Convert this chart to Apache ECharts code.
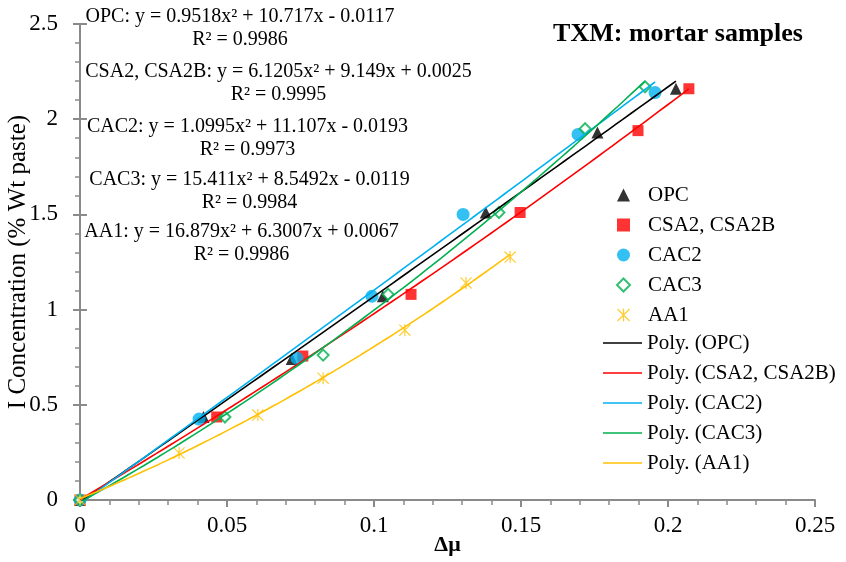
<!DOCTYPE html>
<html>
<head>
<meta charset="utf-8">
<script src="https://cdn.jsdelivr.net/npm/echarts@6/dist/echarts.min.js"></script>
<style>
  html, body { margin: 0; padding: 0; background: #fff; }
  #chart { width: 846px; height: 562px; }
</style>
</head>
<body>
<div id="chart"></div>
<script>
// Measured points: Δμ (x) vs I concentration (y)
const opcX  = [0, 0.042, 0.072, 0.103, 0.138, 0.176, 0.2027];
const opcY  = [0, 0.436, 0.740, 1.070, 1.510, 1.930, 2.160];
const csaX  = [0, 0.0465, 0.0758, 0.1126, 0.1497, 0.1898, 0.2071];
const csaY  = [0, 0.436, 0.756, 1.080, 1.510, 1.940, 2.160];
const cac2X = [0, 0.0405, 0.0738, 0.0993, 0.1303, 0.1694, 0.1956];
const cac2Y = [0, 0.425, 0.745, 1.070, 1.500, 1.920, 2.140];
const cac3X = [0, 0.0493, 0.0827, 0.1048, 0.1425, 0.1718, 0.1922];
const cac3Y = [0, 0.436, 0.761, 1.080, 1.510, 1.950, 2.170];
const aa1X  = [0, 0.0337, 0.0605, 0.0827, 0.1105, 0.1313, 0.1463];
const aa1Y  = [0, 0.247, 0.446, 0.640, 0.892, 1.140, 1.276];

// Quadratic trend-line coefficients [a, b, c] for y = a x² + b x + c, and R²
const opcFit  = [0.9518, 10.717, -0.0117];
const csaFit  = [6.1205, 9.149, 0.0025];
const cac2Fit = [1.0995, 11.107, -0.0193];
const cac3Fit = [15.411, 8.5492, -0.0119];
const aa1Fit  = [16.879, 6.3007, 0.0067];
const r2Values = [0.9986, 0.9995, 0.9973, 0.9984, 0.9986];

const seriesNames = ['OPC', 'CSA2, CSA2B', 'CAC2', 'CAC3', 'AA1'];
const xTickLabels = ['0', '0.05', '0.1', '0.15', '0.2', '0.25'];
const yTickLabels = ['0', '0.5', '1', '1.5', '2', '2.5'];

const FONT = 'Liberation Serif';
const AXIS_GRAY = '#8a8a8a';
const colors = ['#000000', '#FF0000', '#00B0F0', '#00B050', '#FFC000'];

const groups = [
  { x: opcX,  y: opcY,  fit: opcFit  },
  { x: csaX,  y: csaY,  fit: csaFit  },
  { x: cac2X, y: cac2Y, fit: cac2Fit },
  { x: cac3X, y: cac3Y, fit: cac3Fit },
  { x: aa1X,  y: aa1Y,  fit: aa1Fit  }
];

// six-armed asterisk marker (vertical bar + X), all parts wound the same way
const starPath = 'path://M9,0 L11,0 L11,20 L9,20 Z M0,1.4 L1.4,0 L20,18.6 L18.6,20 Z M18.6,0 L20,1.4 L1.4,20 L0,18.6 Z';
// thin horizontal bar used as the trend-line legend key
const lineKey = 'path://M0,0 L39,0 L39,1.6 L0,1.6 Z';

const markerStyles = [
  { symbol: 'triangle', symbolSize: 12, itemStyle: { color: colors[0] } },
  { symbol: 'rect', symbolSize: 11, itemStyle: { color: colors[1] } },
  { symbol: 'circle', symbolSize: 13, itemStyle: { color: colors[2] } },
  { symbol: 'diamond', symbolSize: 11, itemStyle: { color: '#ffffff', borderColor: colors[3], borderWidth: 2 } },
  { symbol: starPath, symbolSize: 12, itemStyle: { color: colors[4] } }
];

function pairs(xs, ys) { return xs.map((v, i) => [v, ys[i]]); }

// Trend curve evaluated from the stated quadratic over the measured Δμ range
function fitCurve(fit, xs) {
  const xmax = Math.max.apply(null, xs);
  const pts = [];
  const n = 80;
  for (let i = 0; i <= n; i++) {
    const x = xmax * i / n;
    pts.push([x, fit[0] * x * x + fit[1] * x + fit[2]]);
  }
  return pts;
}

function fmtNum(v) { return String(Math.abs(v)); }
function eqText(name, fit, r2) {
  const s1 = fit[1] < 0 ? ' - ' : ' + ';
  const s2 = fit[2] < 0 ? ' - ' : ' + ';
  return name + ': y = ' + fmtNum(fit[0]) + 'x²' + s1 + fmtNum(fit[1]) + 'x' + s2 + fmtNum(fit[2]) +
         '\nR² = ' + r2;
}

const series = [];
groups.forEach((g, i) => {
  series.push(Object.assign({
    name: seriesNames[i],
    type: 'scatter',
    data: pairs(g.x, g.y),
    z: 2
  }, markerStyles[i]));
});
const lineNames = seriesNames.map(n => 'Poly. (' + n + ')');
groups.forEach((g, i) => {
  series.push({
    name: lineNames[i],
    type: 'line',
    data: fitCurve(g.fit, g.x),
    symbol: 'none',
    lineStyle: { color: colors[i], width: 1.6 },
    itemStyle: { color: colors[i] },
    z: 3,
    silent: true
  });
});

// Equation label blocks: centre x, centre y
const eqPos = [[240, 28.5], [278.5, 83.5], [247.5, 138.5], [249.5, 191], [241.5, 243.5]];
const graphics = groups.map((g, i) => ({
  type: 'text',
  x: eqPos[i][0],
  y: eqPos[i][1],
  style: {
    text: eqText(seriesNames[i], g.fit, r2Values[i]),
    font: '20px "Liberation Serif"',
    fill: '#000',
    align: 'center',
    verticalAlign: 'middle',
    lineHeight: 23
  }
}));
graphics.push({
  type: 'text',
  x: 678,
  y: 34,
  style: {
    text: 'TXM: mortar samples',
    font: 'bold 26px "Liberation Serif"',
    fill: '#000',
    align: 'center',
    verticalAlign: 'middle'
  }
});

const chart = echarts.init(document.getElementById('chart'), null, { renderer: 'canvas' });

const baseX = {
  type: 'value', min: 0, max: 0.25, interval: 0.05,
  splitLine: { show: false }
};
const baseY = {
  type: 'value', min: 0, max: 2.5, interval: 0.5,
  splitLine: { show: false }
};
const legendText = { fontFamily: FONT, fontSize: 21, color: '#000', lineHeight: 22 };
const tickRich = { t: { fontFamily: FONT, fontSize: 23, color: '#000' } };

chart.setOption({
  animation: false,
  backgroundColor: '#ffffff',
  textStyle: { fontFamily: FONT, color: '#000' },
  grid: { left: 80, right: 31, top: 24, bottom: 62, containLabel: false, outerBoundsMode: 'none' },
  xAxis: [
    Object.assign({}, baseX, {
      name: 'Δμ',
      nameLocation: 'middle',
      nameGap: 34,
      nameMoveOverlap: false,
      nameTextStyle: { fontFamily: FONT, fontSize: 22, fontWeight: 'bold', color: '#000' },
      axisLine: { lineStyle: { color: AXIS_GRAY, width: 2 } },
      axisTick: { show: true, inside: false, length: 7, lineStyle: { color: AXIS_GRAY, width: 2 } },
      minorTick: { show: true, splitNumber: 5, length: 5, lineStyle: { color: AXIS_GRAY, width: 1.5 } },
      axisLabel: {
        margin: 14, fontFamily: FONT, fontSize: 23, color: '#000', rich: tickRich,
        formatter: v => '{t|' + xTickLabels[Math.round(v / 0.05)] + '}'
      }
    }),
    Object.assign({}, baseX, {
      axisLine: { show: false },
      axisTick: { show: true, inside: true, length: 7, lineStyle: { color: AXIS_GRAY, width: 2 } },
      axisLabel: { show: false }
    })
  ],
  yAxis: [
    Object.assign({}, baseY, {
      name: 'I Concentration (% Wt paste)',
      nameLocation: 'middle',
      nameGap: 49,
      nameMoveOverlap: false,
      nameTextStyle: { fontFamily: FONT, fontSize: 25, color: '#000' },
      axisLine: { show: true, lineStyle: { color: AXIS_GRAY, width: 2 } },
      axisTick: { show: true, inside: false, length: 7, lineStyle: { color: AXIS_GRAY, width: 2 } },
      minorTick: { show: true, splitNumber: 5, length: 5, lineStyle: { color: AXIS_GRAY, width: 1.5 } },
      axisLabel: {
        margin: 22, fontFamily: FONT, fontSize: 23, color: '#000', rich: tickRich,
        formatter: v => '{t|' + yTickLabels[Math.round(v / 0.5)] + '}'
      }
    }),
    Object.assign({}, baseY, {
      position: 'left',
      axisLine: { show: false },
      axisTick: { show: true, inside: true, length: 7, lineStyle: { color: AXIS_GRAY, width: 2 } },
      axisLabel: { show: false }
    })
  ],
  legend: [
    {
      orient: 'vertical',
      left: 611,
      top: 179,
      itemWidth: 13,
      itemHeight: 13,
      itemGap: 8,
      textStyle: Object.assign({ padding: [0, 0, 0, 13] }, legendText),
      data: seriesNames.map((n, i) => ({ name: n, icon: markerStyles[i].symbol }))
    },
    {
      orient: 'vertical',
      left: 598,
      top: 327,
      itemWidth: 39,
      itemHeight: 1.6,
      itemGap: 8,
      textStyle: legendText,
      data: lineNames.map(n => ({ name: n, icon: lineKey }))
    }
  ],
  graphic: graphics,
  series: series
});
</script>
</body>
</html>
